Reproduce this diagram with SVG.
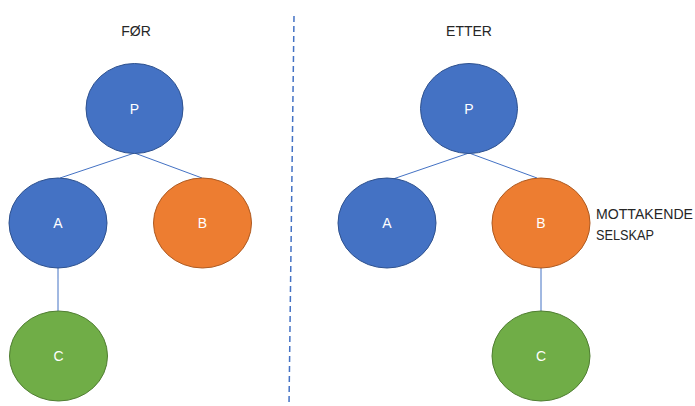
<svg xmlns="http://www.w3.org/2000/svg" width="695" height="406" viewBox="0 0 695 406">
<defs>
<style>
.blue{fill:#4472C4;stroke:#2F528F;stroke-width:1}
.orange{fill:#ED7D31;stroke:#AE5A21;stroke-width:1}
.green{fill:#70AD47;stroke:#507E32;stroke-width:1}
.lbl{font-family:"Liberation Sans",Arial,sans-serif;font-size:14px;fill:#FFFFFF;text-anchor:middle}
.ttl{font-family:"Liberation Sans",Arial,sans-serif;font-size:14px;fill:#262626}
.conn{stroke:#4472C4;stroke-width:1;fill:none}
</style>
</defs>
<rect width="695" height="406" fill="#FFFFFF"/>
<text class="ttl" x="136" y="36" text-anchor="middle">FØR</text>
<text class="ttl" x="469" y="36" text-anchor="middle">ETTER</text>
<g id="connectors">
<line class="conn" x1="134.5" y1="153" x2="60" y2="178"/>
<line class="conn" x1="134.5" y1="153" x2="202" y2="178"/>
<line class="conn" x1="58" y1="268" x2="58" y2="311"/>
<line class="conn" x1="469" y1="153" x2="393" y2="179"/>
<line class="conn" x1="469" y1="153" x2="537" y2="178"/>
<line class="conn" x1="541" y1="268" x2="541" y2="311"/>
</g>
<line id="divider" x1="294" y1="16" x2="289" y2="405" stroke="#4472C4" stroke-width="1.5" stroke-dasharray="6,4"/>
<g id="left-P"><ellipse class="blue" cx="134.5" cy="108.5" rx="48.5" ry="45"/><text class="lbl" x="134.5" y="113.5">P</text></g>
<g id="left-A"><ellipse class="blue" cx="58" cy="223" rx="49" ry="45"/><text class="lbl" x="58" y="228">A</text></g>
<g id="left-B"><ellipse class="orange" cx="202.5" cy="223" rx="49" ry="45"/><text class="lbl" x="202.5" y="228">B</text></g>
<g id="left-C"><ellipse class="green" cx="58.5" cy="356" rx="49" ry="45"/><text class="lbl" x="58.5" y="361">C</text></g>
<g id="right-P"><ellipse class="blue" cx="469" cy="108.5" rx="48.5" ry="45"/><text class="lbl" x="469" y="113.5">P</text></g>
<g id="right-A"><ellipse class="blue" cx="387" cy="223" rx="49" ry="45"/><text class="lbl" x="387" y="228">A</text></g>
<g id="right-B"><ellipse class="orange" cx="541" cy="223" rx="49" ry="45"/><text class="lbl" x="541" y="228">B</text></g>
<g id="right-C"><ellipse class="green" cx="541" cy="356" rx="49" ry="45"/><text class="lbl" x="541" y="361">C</text></g>
<g id="label-mottakende">
<text class="ttl" x="596" y="219" font-size="15" textLength="97" lengthAdjust="spacingAndGlyphs">MOTTAKENDE</text>
<text class="ttl" x="596" y="240" font-size="15" textLength="58" lengthAdjust="spacingAndGlyphs">SELSKAP</text>
</g>
</svg>
